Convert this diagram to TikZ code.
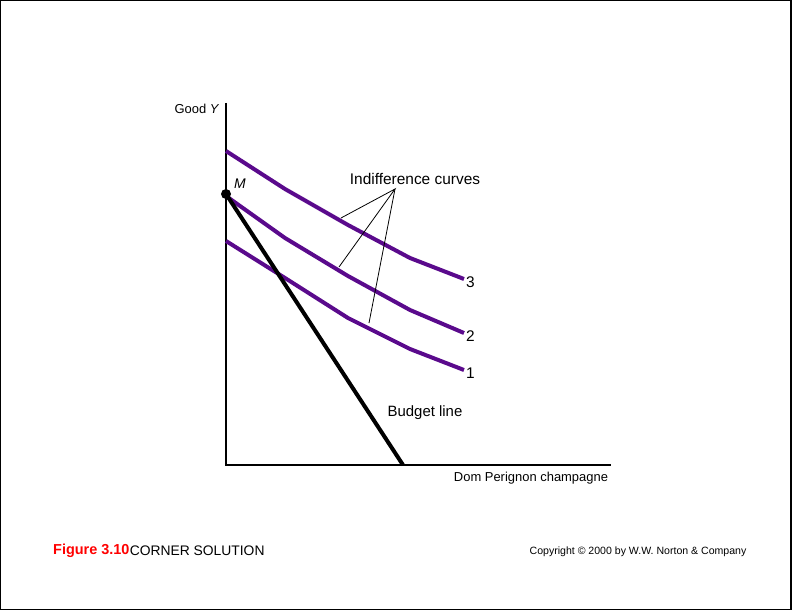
\documentclass[tikz,border=0pt]{standalone}
\usepackage{fontspec}
\setmainfont{Liberation Sans}
\definecolor{icpurple}{RGB}{90,10,140}
\definecolor{figred}{RGB}{255,0,0}
\begin{document}
\begin{tikzpicture}[x=1bp,y=-1bp,
  axis/.style={line width=2bp,black},
  icurve/.style={line width=4bp,icpurple,line join=round},
  budget/.style={line width=4bp,black},
  pointer/.style={line width=0.8bp,black},
  lbl/.style={inner sep=0pt,font=\fontsize{15.5}{18}\selectfont},
  smalllbl/.style={inner sep=0pt,font=\fontsize{13}{15}\selectfont}]
\useasboundingbox (0,0) rectangle (792,611);
\draw[line width=1.5bp] (0.75,0.75) rectangle (790.75,609.5);
% axes
\coordinate (O) at (226,465);
\coordinate (Ytop) at (226,103);
\coordinate (Xend) at (611,465);
\draw[axis] (Ytop) -- (O) -- (Xend);
% curves
\draw[icurve] (226,151) -- (285,189) -- (348,225) -- (410,258) -- (464,279) coordinate (c3);
\draw[icurve] (226,196) -- (285,238) -- (348,276) -- (410,310) -- (464,333) coordinate (c2);
\draw[icurve] (226,241) -- (285,278) -- (348,318) -- (410,349) -- (464,370) coordinate (c1);
% budget line
\coordinate (B) at (403,465);
\node[circle,fill=black,inner sep=0pt,minimum size=10bp] (M) at (226,194) {};
\draw[budget] (M.center) -- (B);
% labels
\node[lbl,font=\fontsize{14}{16}\selectfont\itshape] (Mlbl) at (240,184) {M};
\node[lbl,anchor=west] (l3) at (466,282) {3};
\node[lbl,anchor=west] (l2) at (466,336) {2};
\node[lbl,anchor=west] (l1) at (466,373) {1};
\node[lbl] (ic) at (415,179) {Indifference curves};
\coordinate (apex) at (395,189);
\coordinate (p3) at (341,218);
\coordinate (p2) at (339,267);
\coordinate (p1) at (369,323);
\draw[pointer] (p3) -- (apex) -- (p2);
\draw[pointer] (apex) -- (p1);
\node[lbl,font=\fontsize{15}{18}\selectfont] (bl) at (425,413) {Budget line};
\node[smalllbl] (xl) at (531,478) {Dom Perignon champagne};
\node[smalllbl] (yl) at (197,109) {Good \textit{Y}};
\node[lbl,anchor=west,text=figred,font=\fontsize{14.5}{17}\selectfont\bfseries] (fig) at (53,551) {Figure 3.10};
\node[lbl,anchor=west,font=\fontsize{13.9}{17}\selectfont] (title) at (fig.east) {CORNER SOLUTION};
\node[inner sep=0pt,font=\fontsize{10.6}{13}\selectfont] (copy) at (638,552) {Copyright © 2000 by W.W. Norton \& Company};
\end{tikzpicture}
\end{document}
